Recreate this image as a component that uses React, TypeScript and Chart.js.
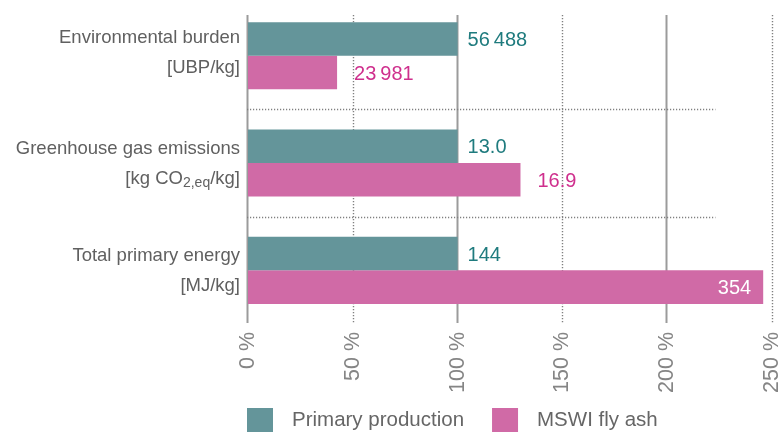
import React, { useEffect, useRef } from "react";
import { Chart, registerables } from "chart.js";

Chart.register(...registerables);

const categoryLine1 = ["Environmental burden", "Greenhouse gas emissions", "Total primary energy"];
const categoryLine2 = ["[UBP/kg]", "[kg CO|2,eq|/kg]", "[MJ/kg]"];
const seriesNames = ["Primary production", "MSWI fly ash"];
const primaryPercent = [100, 100, 100];
const flyAshPercent = [42.5, 130.0, 245.8];
const primaryValueLabels = ["56\u2009488", "13.0", "144"];
const flyAshValueLabels = ["23\u2009981", "16.9", "354"];
const xTickValues = [0, 50, 100, 150, 200, 250];

const TEAL = "#64959a";
const PINK = "#d06aa6";
const TEAL_TEXT = "#1f7b7e";
const PINK_TEXT = "#cf2f8d";
const FONT = "'Liberation Sans', Arial, Helvetica, sans-serif";

const decorPlugin = {
  id: "decor",
  beforeDatasetsDraw(chart: any) {
    const { ctx, chartArea, scales } = chart;
    const x = scales.x;
    const y = scales.y;
    ctx.save();
    xTickValues.forEach((v) => {
      const px = Math.round(x.getPixelForValue(v));
      ctx.beginPath();
      if (v % 100 === 0) {
        ctx.setLineDash([]);
        ctx.lineWidth = 2;
        ctx.strokeStyle = "#9b9b9b";
        ctx.moveTo(px - 0.5, chartArea.top + 13);
        ctx.lineTo(px - 0.5, chartArea.bottom - 1);
      } else {
        ctx.setLineDash([1.2, 1.8]);
        ctx.lineWidth = 1.4;
        ctx.strokeStyle = "#808080";
        ctx.moveTo(px + 0.5, chartArea.top + 13);
        ctx.lineTo(px + 0.5, chartArea.bottom - 1);
      }
      ctx.stroke();
    });
    ctx.setLineDash([1.2, 1.8]);
    ctx.lineWidth = 1.4;
    ctx.strokeStyle = "#808080";
    for (let i = 0; i < categoryLine1.length - 1; i++) {
      const py = Math.round((y.getPixelForValue(i) + y.getPixelForValue(i + 1)) / 2) + 0.5;
      ctx.beginPath();
      ctx.moveTo(chartArea.left - 1, py);
      ctx.lineTo(x.getPixelForValue(223), py);
      ctx.stroke();
    }
    ctx.restore();
  },
  afterDatasetsDraw(chart: any) {
    const { ctx, chartArea, scales } = chart;
    const y = scales.y;
    ctx.save();
    ctx.fillStyle = "#606060";
    ctx.textBaseline = "alphabetic";
    const catSize = 18.5;
    const rightX = chartArea.left - 8;
    categoryLine1.forEach((l1, i) => {
      const cy = y.getPixelForValue(i);
      const off = i === 0 ? -4 : 0;
      ctx.font = `${catSize}px ${FONT}`;
      ctx.textAlign = "right";
      ctx.fillText(l1, rightX, cy - 9 + off);
      const parts = categoryLine2[i].split("|");
      const widths = parts.map((p, k) => {
        ctx.font = `${k % 2 === 1 ? 14 : catSize}px ${FONT}`;
        return ctx.measureText(p).width;
      });
      const total = widths.reduce((a, b) => a + b, 0);
      let cx = rightX - total;
      ctx.textAlign = "left";
      parts.forEach((p, k) => {
        const sub = k % 2 === 1;
        ctx.font = `${sub ? 14 : catSize}px ${FONT}`;
        ctx.fillText(p, cx, cy + 21 + off + (sub ? 3 : 0));
        cx += widths[k];
      });
    });

    const valSize = 20;
    ctx.font = `${valSize}px ${FONT}`;
    const labelSets = [primaryValueLabels, flyAshValueLabels];
    const colors = [TEAL_TEXT, PINK_TEXT];
    const gaps = [10, 17];
    chart.data.datasets.forEach((ds: any, di: number) => {
      const meta = chart.getDatasetMeta(di);
      meta.data.forEach((bar: any, i: number) => {
        const txt = labelSets[di][i];
        const w = ctx.measureText(txt).width;
        const by = bar.y + valSize * 0.36;
        if (bar.x + gaps[di] + w > chartArea.right) {
          ctx.fillStyle = "#ffffff";
          ctx.textAlign = "right";
          ctx.fillText(txt, bar.x - 12, by);
        } else {
          ctx.fillStyle = colors[di];
          ctx.textAlign = "left";
          ctx.fillText(txt, bar.x + gaps[di], by);
        }
      });
    });

    const legSize = 20.5;
    ctx.font = `${legSize}px ${FONT}`;
    ctx.textAlign = "left";
    ctx.textBaseline = "middle";
    let lx = chartArea.left - 1;
    const ly = 420;
    chart.data.datasets.forEach((ds: any) => {
      ctx.fillStyle = ds.backgroundColor;
      ctx.fillRect(lx, ly - 12, 26, 26);
      ctx.fillStyle = "#666666";
      ctx.fillText(ds.label, lx + 45, ly);
      lx += 45 + ctx.measureText(ds.label).width + 28;
    });
    ctx.restore();
  },
};

export default function App() {
  const ref = useRef<HTMLCanvasElement>(null);
  useEffect(() => {
    if (!ref.current) return;
    const chart = new Chart(ref.current, {
      type: "bar",
      data: {
        labels: categoryLine1,
        datasets: [
          { label: seriesNames[0], data: primaryPercent, backgroundColor: TEAL, borderWidth: 0 },
          { label: seriesNames[1], data: flyAshPercent, backgroundColor: PINK, borderWidth: 0 },
        ],
      },
      options: {
        indexAxis: "y",
        animation: false,
        responsive: true,
        maintainAspectRatio: false,
        datasets: { bar: { categoryPercentage: 0.625, barPercentage: 1 } },
        layout: { padding: { left: 248, right: 7, top: 2, bottom: 28 } },
        scales: {
          x: {
            min: 0,
            max: 250,
            grid: { display: false },
            border: { display: false },
            afterBuildTicks: (scale: any) => {
              scale.ticks = xTickValues.map((v) => ({ value: v }));
            },
            afterFit: (scale: any) => {
              scale.height = 80;
              scale.paddingLeft = 0;
              scale.paddingRight = 0;
            },
            ticks: {
              autoSkip: false,
              minRotation: 90,
              maxRotation: 90,
              padding: 0,
              color: "#858585",
              font: { size: 21.5, family: FONT },
              callback: (v: any) => `${v} %`,
            },
          },
          y: { display: false },
        },
        plugins: { legend: { display: false }, tooltip: { enabled: false } },
      },
      plugins: [decorPlugin],
    });
    return () => chart.destroy();
  }, []);
  return (
    <div style={{ position: "absolute", left: 0, top: 0, width: 779, height: 432, background: "#fff" }}>
      <canvas ref={ref} />
    </div>
  );
}
